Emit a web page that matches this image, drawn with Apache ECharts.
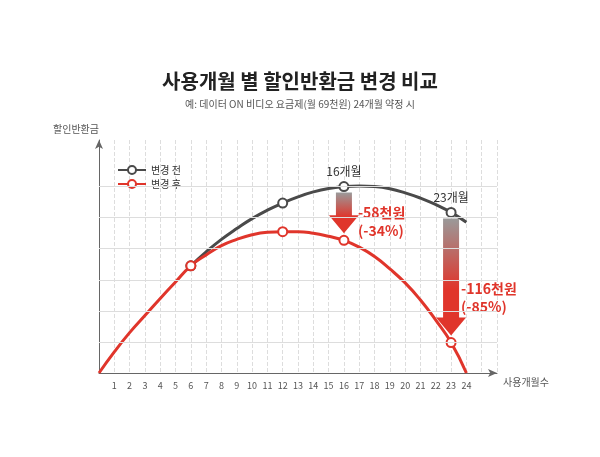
<!DOCTYPE html>
<html><head><meta charset="utf-8">
<script src="https://cdn.jsdelivr.net/npm/echarts@6/dist/echarts.min.js"></script>
<style>html,body{margin:0;background:#fff}#c{width:600px;height:457px}</style>
</head><body><div id="c"></div>
<script>
const months = [0,1,2,3,4,5,6,7,8,9,10,11,12,13,14,15,16,17,18,19,20,21,22,23,24];
const before = [null,null,null,null,null,null,3.45,3.9,4.3,4.65,4.97,5.24,5.47,5.67,5.83,5.94,6.0,6.02,6.0,5.93,5.8,5.63,5.42,5.17,4.85];
const after = [0,0.68,1.3,1.85,2.4,2.93,3.45,3.8,4.1,4.3,4.45,4.53,4.55,4.55,4.5,4.4,4.27,4.05,3.75,3.35,2.9,2.35,1.7,0.98,0];
const marked = [6,12,16,23];
const arrows = [[16,6.0,4.27,'16개월','-58천원\n(-34%)'],[23,5.17,0.98,'23개월','-116천원\n(-85%)']];
const gridLines = [1,2,3,4,5,6];
const font = '"Noto Sans CJK KR", "Noto Sans", sans-serif';
const C1='#4a4a4a', C2='#e0352b';
function mk(arr){return months.map((m,i)=>arr[i]==null?[m,null]:{value:[m,arr[i]],symbol:marked.includes(m)?'circle':'none'});}
const chart = echarts.init(document.getElementById('c'));
chart.setOption({
  backgroundColor:'#fff',
  textStyle:{fontFamily:font},
  title:{text:'사용개월 별 할인반환금 변경 비교',subtext:'예: 데이터 ON 비디오 요금제(월 69천원) 24개월 약정 시',left:'center',top:66,itemGap:8,
    textStyle:{fontSize:20,fontWeight:'bold',color:'#222',fontFamily:font},subtextStyle:{fontSize:10,color:'#555',fontFamily:font}},
  legend:{left:112,top:160,orient:'vertical',itemGap:4,itemWidth:28,itemHeight:10,textStyle:{fontSize:10,color:'#333'},data:['변경 전','변경 후']},
  grid:{left:99,right:103,top:140,bottom:84},
  xAxis:{type:'value',min:0,max:26,interval:1,name:'사용개월수',nameGap:6,nameTextStyle:{fontSize:10,color:'#555',verticalAlign:'top',padding:[4,0,0,0]},
    axisLine:{lineStyle:{color:'#666'},symbol:['none','arrow'],symbolSize:[6,9]},axisTick:{show:false},
    axisLabel:{fontSize:9,color:'#555',formatter:v=>(v>=1&&v<=24)?v:''},
    splitLine:{show:true,lineStyle:{color:'#ddd',type:'dashed'}}},
  yAxis:{type:'value',min:0,max:7.5,interval:1,name:'할인반환금',nameLocation:'end',nameGap:6,
    nameTextStyle:{fontSize:10,color:'#555',align:'right',padding:[0,0,0,0]},
    axisLine:{show:true,lineStyle:{color:'#666'},symbol:['none','arrow'],symbolSize:[6,9]},axisTick:{show:false},axisLabel:{show:false},splitLine:{show:false}},
  series:[
    {name:'변경 전',type:'line',smooth:true,data:mk(before),symbol:'circle',symbolSize:9,lineStyle:{color:C1,width:3},
      itemStyle:{color:'#fff',borderColor:C1,borderWidth:2},color:C1,z:3,
      markLine:{silent:true,symbol:'none',label:{show:false},lineStyle:{color:'#ddd',type:'solid',width:1},data:gridLines.map(v=>({yAxis:v}))}},
    {name:'변경 후',type:'line',smooth:true,data:mk(after),symbol:'circle',symbolSize:9,lineStyle:{color:C2,width:3},
      itemStyle:{color:'#fff',borderColor:C2,borderWidth:2},color:C2,z:3},
    {type:'custom',data:arrows,z:2,silent:true,renderItem:(p,api)=>{
      const x=api.value(0),top=api.coord([x,api.value(1)]),bot=api.coord([x,api.value(2)]);
      const cx=top[0],y0=top[1]+6,y1=bot[1]-7,hw=8,aw=15,ah=18;
      const grad=new echarts.graphic.LinearGradient(0,0,0,1,[{offset:0,color:'#9a9a9a'},{offset:0.6,color:'#e0352b'},{offset:1,color:'#e0352b'}]);
      const d=arrows[p.dataIndex];
      return {type:'group',children:[
        {type:'polygon',shape:{points:[[cx-hw,y0],[cx+hw,y0],[cx+hw,y1-ah],[cx+aw,y1-ah],[cx,y1],[cx-aw,y1-ah],[cx-hw,y1-ah]]},style:{fill:grad}},
        {type:'text',style:{text:d[3],x:cx,y:top[1]-9,align:'center',verticalAlign:'bottom',fontSize:12,fill:'#333',fontFamily:font}},
        {type:'text',style:{text:d[4],x:cx+(x===23?10:14),y:top[1]+17+(x===23?50:0),align:'left',verticalAlign:'top',fontSize:14,lineHeight:18,fontWeight:'bold',fill:C2,fontFamily:font}}
      ]};
    },encode:{x:0,y:1}}
  ]
});
</script></body></html>
